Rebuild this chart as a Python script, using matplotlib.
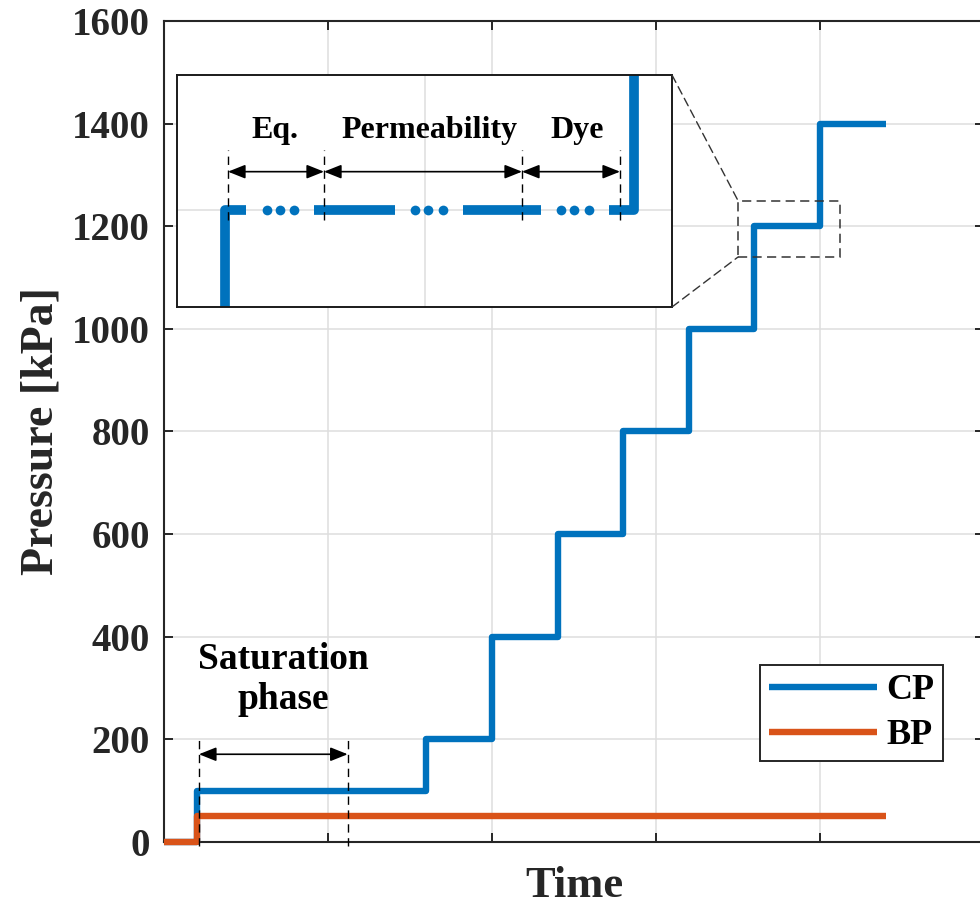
import numpy as np
import matplotlib
matplotlib.use("Agg")
import matplotlib.pyplot as plt
from matplotlib.patches import Rectangle, ConnectionPatch

# Main step curves (time in arbitrary units, pressure in kPa)
cp_time = [0, 0.2, 1.6, 2.0, 2.4, 2.8, 3.2, 3.6, 4.0, 4.4]
cp_pressure = [0, 100, 200, 400, 600, 800, 1000, 1200, 1400, 1400]
bp_time = [0, 0.2, 4.4]
bp_pressure = [0, 50, 50]

# Saturation phase marker
sat_bounds = [0.213, 1.12]
sat_arrow_y = 171
sat_label = "Saturation\nphase"
sat_label_pos = (0.726, 316)

# Zoom window on the main axes
zoom_x = [3.5, 4.12]
zoom_y = [1140, 1250]

# Inset schematic (own coordinates)
inset_level = 1200
inset_left = [0.97, 0.97, 1.39]
inset_left_y = [1100, 1200, 1200]
inset_solid = [(2.77, 4.40), (5.78, 7.35)]
inset_right = [8.73, 9.23, 9.23]
inset_right_y = [1200, 1200, 1300]
inset_dots = [1.81, 2.08, 2.37, 4.81, 5.07, 5.37, 7.76, 8.02, 8.32]
phase_bounds = [1.03, 2.97, 6.97, 8.95]
phase_labels = ["Eq.", "Permeability", "Dye"]
phase_label_x = [1.98, 5.1, 8.08]

BLUE = "#0072BD"
ORANGE = "#D95319"
DARK = "#262626"
ARROW = "<|-|>,head_length=0.75,head_width=0.3"

plt.rcParams["font.family"] = ["Liberation Serif", "DejaVu Serif"]
plt.rcParams["font.weight"] = "bold"

fig = plt.figure(figsize=(9.8, 9.07), dpi=100)
ax = fig.add_axes([164 / 980, 65 / 907, 820 / 980, 821 / 907])

cp_line, = ax.step(cp_time, cp_pressure, where="post", color=BLUE, lw=4.6,
                   solid_joinstyle="round", solid_capstyle="butt", clip_on=False, zorder=3)
bp_line, = ax.step(bp_time, bp_pressure, where="post", color=ORANGE, lw=4.6,
                   solid_joinstyle="round", solid_capstyle="butt", clip_on=False, zorder=3)

ax.set_xlim(0, 5)
ax.set_ylim(0, 1600)
ax.set_xticks(np.arange(0, 6, 1))
ax.set_xticklabels([])
ax.set_yticks(np.arange(0, 1601, 200))
ax.tick_params(direction="in", length=6.5, width=1.4, colors=DARK, labelsize=28,
               pad=10, top=True, right=True)
for lab in ax.get_yticklabels():
    lab.set_fontweight("bold")
ax.grid(True, color="#dedede", lw=1.1)
ax.set_axisbelow(True)
for s in ax.spines.values():
    s.set_color(DARK)
    s.set_linewidth(1.5)

ax.set_ylabel("Pressure [kPa]", fontsize=33, fontweight="bold", color=DARK,
              va="baseline")
ax.yaxis.set_label_coords(-0.1354, 0.5)
ax.set_xlabel("Time", fontsize=32, fontweight="bold", color=DARK, va="baseline")
ax.xaxis.set_label_coords(0.5, -0.067)

# saturation phase annotation
for xb in sat_bounds:
    ax.plot([xb, xb], [-8, 206], color="black", lw=1.0, ls=(0, (6, 4)), clip_on=False, zorder=4)
ax.annotate("", xy=(sat_bounds[0], sat_arrow_y), xytext=(sat_bounds[1], sat_arrow_y),
            arrowprops=dict(arrowstyle=ARROW, mutation_scale=14, color="black", lw=1.2,
                            shrinkA=0, shrinkB=0))
ax.text(*sat_label_pos, sat_label, fontsize=27, fontweight="bold", ha="center",
        va="center", linespacing=1.18, color="black")

# zoom rectangle
ax.add_patch(Rectangle((zoom_x[0], zoom_y[0]), zoom_x[1] - zoom_x[0], zoom_y[1] - zoom_y[0],
                       fill=False, ec="#333333", lw=1.1, ls=(0, (6, 3.5)), zorder=5))

leg = ax.legend([cp_line, bp_line], ["CP", "BP"], loc="upper right",
                bbox_to_anchor=(943 / 980, 1 - 665 / 907), bbox_transform=fig.transFigure,
                fontsize=26, frameon=True, fancybox=False, framealpha=1,
                edgecolor=DARK, handlelength=3.0, handletextpad=0.25,
                labelspacing=0.32, borderpad=0.25, borderaxespad=0)
leg.get_frame().set_linewidth(1.4)

# inset axes
axin = fig.add_axes([177 / 980, 1 - 307 / 907, 495 / 980, 232 / 907])
axin.set_xlim(0, 10)
axin.set_ylim(1150, 1270)
axin.set_xticks([5])
axin.set_yticks([inset_level])
axin.tick_params(length=0, labelbottom=False, labelleft=False)
axin.grid(True, color="#dedede", lw=1.1)
axin.set_axisbelow(True)
for s in axin.spines.values():
    s.set_color("#1a1a1a")
    s.set_linewidth(1.4)

lw_in = 7
axin.plot(inset_left, inset_left_y, color=BLUE, lw=lw_in, solid_joinstyle="round",
          solid_capstyle="butt")
for x0, x1 in inset_solid:
    axin.plot([x0, x1], [inset_level, inset_level], color=BLUE, lw=lw_in,
              solid_capstyle="butt")
axin.plot(inset_right, inset_right_y, color=BLUE, lw=lw_in, solid_joinstyle="round",
          solid_capstyle="butt")
axin.plot(inset_dots, [inset_level] * len(inset_dots), "o", color=BLUE, ms=7, mew=0)

for xb in phase_bounds:
    axin.plot([xb, xb], [1195, 1231], color="black", lw=1.0, ls=(0, (6, 4)), zorder=4)
for i in range(len(phase_labels)):
    axin.annotate("", xy=(phase_bounds[i], 1220), xytext=(phase_bounds[i + 1], 1220),
                  arrowprops=dict(arrowstyle=ARROW, mutation_scale=14, color="black",
                                  lw=1.2, shrinkA=0, shrinkB=0))
    axin.text(phase_label_x[i], 1241.5, phase_labels[i], fontsize=23, fontweight="bold",
              ha="center", va="center", color="black")

# connector lines between inset and zoom window
for ya, yb in [(1, zoom_y[1]), (0, zoom_y[0])]:
    con = ConnectionPatch(xyA=(1, ya), coordsA=axin.transAxes,
                          xyB=(zoom_x[0], yb), coordsB=ax.transData,
                          color="#333333", lw=1.0, ls=(0, (6, 3.5)))
    fig.add_artist(con)

fig.savefig("out.png", dpi=100)
